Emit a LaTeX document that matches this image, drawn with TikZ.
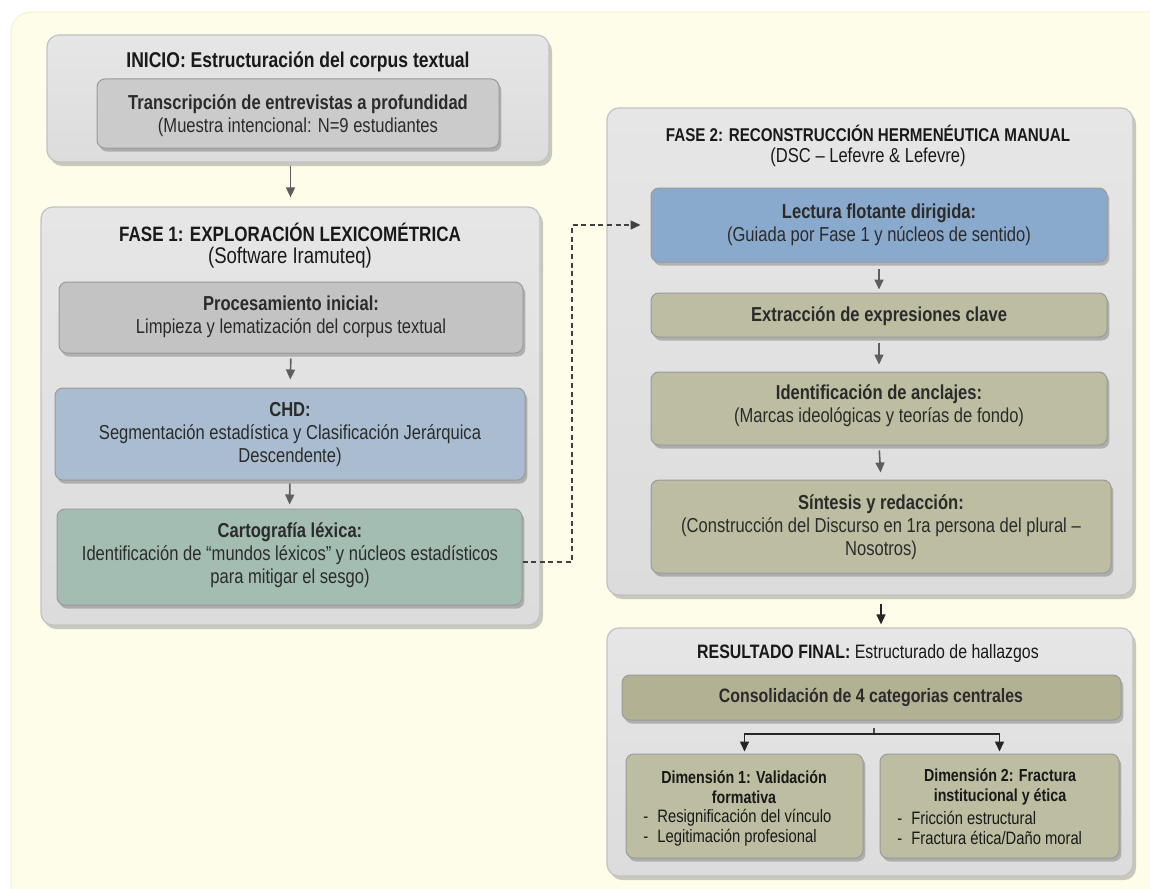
\documentclass[tikz,border=0pt]{standalone}
\usepackage{fontspec}
\setmainfont{Liberation Sans}[FakeStretch=0.82]
\usetikzlibrary{arrows.meta,shadows,fit,calc}
\definecolor{cream}{HTML}{FDFDEA}
\definecolor{creamedge}{HTML}{F3F3D6}
\definecolor{outerfill}{HTML}{DCDCDC}
\definecolor{outertop}{HTML}{E6E6E6}
\definecolor{outeredge}{HTML}{C2C2C2}
\definecolor{inigray}{HTML}{CBCBCB}
\definecolor{procgray}{HTML}{C3C3C3}
\definecolor{chdblue}{HTML}{AABDD0}
\definecolor{cartogreen}{HTML}{A4BDB3}
\definecolor{lectblue}{HTML}{89AACC}
\definecolor{olive}{HTML}{BDBDA1}
\definecolor{olivedark}{HTML}{B3B193}
\definecolor{innedge}{HTML}{9A9A9A}
\definecolor{txt}{HTML}{2B2B2B}
\definecolor{arrgray}{HTML}{5E5E5E}
\tikzset{
  bodyfont/.style={font=\fontsize{10.1pt}{11.5pt}\selectfont},
  outerbox/.style={draw=outeredge, line width=0.6pt, rounded corners=6pt,
    top color=outertop, bottom color=outerfill, inner sep=0pt,
    drop shadow={shadow xshift=1.5pt, shadow yshift=-2pt, opacity=0.35, fill=black!60}},
  innerbox/.style={draw=innedge, line width=0.5pt, rounded corners=4pt,
    fill=#1, inner sep=0pt,
    drop shadow={shadow xshift=1.2pt, shadow yshift=-1.8pt, opacity=0.4, fill=black!60}},
  boxtext/.style={align=center, text=txt, bodyfont, inner sep=0pt, anchor=center},
  titletext/.style={text=black!90, align=center, inner sep=0pt},
  arr/.style={-{Triangle[length=5pt,width=4.5pt]}, draw=arrgray, line width=0.8pt},
  blackarr/.style={-{Triangle[length=5pt,width=4.5pt]}, draw=black!85, line width=0.8pt},
  blackline/.style={draw=black!70, line width=0.8pt},
  dasharr/.style={-{Triangle[length=5pt,width=4.5pt]}, draw=black!75, line width=0.7pt, dash pattern=on 2.5pt off 1.8pt},
}
\begin{document}
\begin{tikzpicture}[x=0.5pt, y=-0.5pt]
\useasboundingbox (0,0) rectangle (1150,888);
% background
\filldraw[fill=cream, draw=creamedge, line width=0.6pt, rounded corners=10pt] (11,12) rectangle (1180,910);

% ---------- INICIO ----------
\node[outerbox, fit={(47,35) (549,162)}] (inicio) {};
\node[titletext, font=\fontsize{10.7pt}{12pt}\selectfont\bfseries] (iniciot) at (298,62) {INICIO: Estructuración del corpus textual};
\node[innerbox=inigray, fit={(97,79) (499,148)}] (trans) {};
\node[boxtext] (transt) at (298,115.5) {\textbf{Transcripción de entrevistas a profundidad}\\(Muestra intencional: N=9 estudiantes};

% ---------- FASE 1 ----------
\node[outerbox, fit={(41,207) (540,625)}] (fase1) {};
\node[titletext, font=\fontsize{10.4pt}{12pt}\selectfont\bfseries] (fase1t) at (290,232) {FASE 1: EXPLORACIÓN LEXICOMÉTRICA};
\node[titletext, font=\fontsize{11.3pt}{12pt}\selectfont] (fase1s) at (290,258) {(Software Iramuteq)};
\node[innerbox=procgray, fit={(59,282) (523,353)}] (proc) {};
\node[boxtext] (proct) at (291,316.5) {\textbf{Procesamiento inicial:}\\Limpieza y lematización del corpus textual};
\node[innerbox=chdblue, fit={(55,388) (525,480)}] (chd) {};
\node[boxtext] (chdt) at (290,434.5) {\textbf{CHD:}\\Segmentación estadística y Clasificación Jerárquica\\Descendente)};
\node[innerbox=cartogreen, fit={(57,509) (522,605)}] (carto) {};
\node[boxtext] (cartot) at (290,555) {\textbf{Cartografía léxica:}\\Identificación de “mundos léxicos” y núcleos estadísticos\\para mitigar el sesgo)};

% ---------- FASE 2 ----------
\node[outerbox, fit={(607,108) (1133,595)}] (fase2) {};
\node[titletext, font=\fontsize{9.25pt}{11pt}\selectfont\bfseries] (fase2t) at (868,133) {FASE 2: RECONSTRUCCIÓN HERMENÉUTICA MANUAL};
\node[titletext, font=\fontsize{10.1pt}{11pt}\selectfont] (fase2s) at (868,157) {(DSC – Lefevre \& Lefevre)};
\node[innerbox=lectblue, fit={(651,188) (1107,262)}] (lect) {};
\node[boxtext] (lectt) at (879,224.5) {\textbf{Lectura flotante dirigida:}\\(Guiada por Fase 1 y núcleos de sentido)};
\node[innerbox=olive, fit={(651,293) (1107,337)}] (extr) {};
\node[boxtext] (extrt) at (879,316) {\textbf{Extracción de expresiones clave}};
\node[innerbox=olive, fit={(651,372) (1107,445)}] (ident) {};
\node[boxtext] (identt) at (879,405.5) {\textbf{Identificación de anclajes:}\\(Marcas ideológicas y teorías de fondo)};
\node[innerbox=olive, fit={(651,480) (1111,573)}] (sint) {};
\node[boxtext] (sintt) at (881,527.5) {\textbf{Síntesis y redacción:}\\(Construcción del Discurso en 1ra persona del plural –\\Nosotros)};

% ---------- RESULTADO ----------
\node[outerbox, fit={(607,628) (1133,876)}] (res) {};
\node[titletext, font=\fontsize{9.7pt}{11pt}\selectfont] (rest) at (868,653) {\textbf{RESULTADO FINAL:} Estructurado de hallazgos};
\node[innerbox=olivedark, fit={(622,675) (1121,720)}] (cons) {};
\node[boxtext, font=\fontsize{9.7pt}{11pt}\selectfont] (const) at (871,697.5) {\textbf{Consolidación de 4 categorias centrales}};
\node[innerbox=olive, fit={(626,754) (863,858)}] (dim1) {};
\node[innerbox=olive, fit={(880,754) (1119,858)}] (dim2) {};
\node[titletext, font=\fontsize{8.7pt}{10.3pt}\selectfont\bfseries] (dim1t) at (744,787) {Dimensión 1: Validación\\formativa};
\node[titletext, font=\fontsize{9pt}{10pt}\selectfont, anchor=west, align=left] (dim1l) at (643,827.5) {\makebox[7pt][l]{-}Resignificación del vínculo\\\makebox[7pt][l]{-}Legitimación profesional};
\node[titletext, font=\fontsize{8.7pt}{10.3pt}\selectfont\bfseries] (dim2t) at (1000,787) {Dimensión 2: Fractura\\institucional y ética};
\node[titletext, font=\fontsize{9pt}{10pt}\selectfont, anchor=west, align=left] (dim2l) at (897,827.5) {\makebox[7pt][l]{-}Fricción estructural\\\makebox[7pt][l]{-}Fractura ética/Daño moral};

% ---------- connectors ----------
\draw[arr, shorten <=1.5pt, shorten >=4.5pt] (inicio.south -| fase1.north) -- (fase1.north);
\draw[arr, shorten <=2.5pt, shorten >=4pt] (proc.south) -- (chd.north);
\draw[arr, shorten <=1.5pt, shorten >=2pt] (chd.south) -- (carto.north);
\draw[arr, shorten <=3pt, shorten >=1.5pt] (lect.south) -- (extr.north);
\draw[arr, shorten <=2.5pt, shorten >=3.5pt] (extr.south) -- (ident.north);
\draw[arr, shorten <=2.5pt, shorten >=3.5pt] (ident.south) -- (sint.north);
\draw[blackarr, shorten <=4pt, shorten >=1.5pt] (fase2.south -| sint.south) -- (res.north -| sint.south);
\coordinate (split) at (874,734);
\draw[blackline, shorten <=3.5pt] (cons.south -| split) -- (split);
\draw[blackarr, shorten >=1pt] (split) -| (dim1.north);
\draw[blackarr, shorten >=1pt] (split) -| (dim2.north);
\coordinate (dashx) at (572,400);
\draw[dasharr, shorten >=5pt] ([yshift=-2.5pt]carto.east) -| (dashx) |- (lect.west);
\end{tikzpicture}
\end{document}
